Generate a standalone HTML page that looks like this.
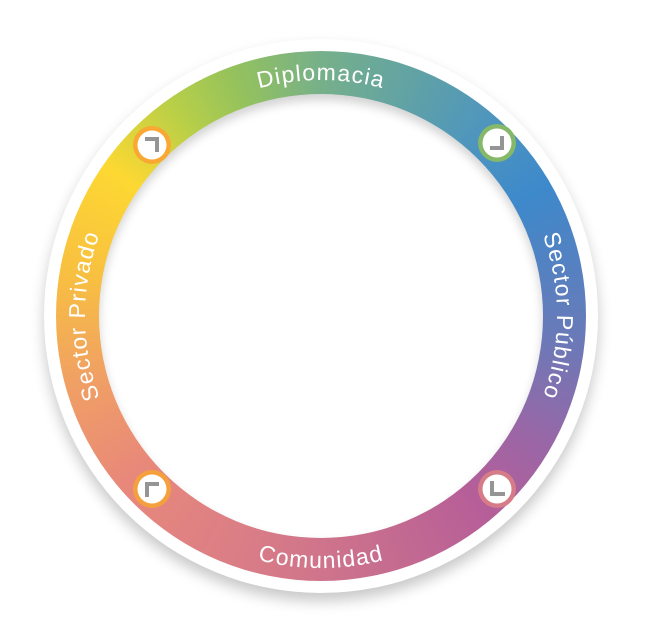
<!DOCTYPE html>
<html><head><meta charset="utf-8"><style>
html,body{margin:0;padding:0;background:#fff;width:650px;height:634px;overflow:hidden}
svg{position:absolute;left:0;top:0}
text{font-family:"Liberation Sans",sans-serif;font-size:23px;fill:#fff;letter-spacing:1.2px}
</style></head><body>
<div style="position:absolute;left:44px;top:39px;width:554px;height:554px;border-radius:50%;background:#fff;box-shadow:0 8px 14px rgba(0,0,0,0.22)"></div>
<div style="position:absolute;left:56px;top:51px;width:530px;height:530px;border-radius:50%;background:conic-gradient(from 0deg,#76b08a 0deg,#4f96bd 40deg,#3d89cb 60deg,#6a7ab8 95deg,#9a66a6 120deg,#b65e98 140deg,#c96f8e 170deg,#db7e86 200deg,#e8887a 230deg,#f0a064 255deg,#f8c040 280deg,#fdd832 305deg,#b8cf48 325deg,#95c25c 340deg,#76b08a 360deg)"></div>
<div style="position:absolute;left:99px;top:94px;width:444px;height:444px;border-radius:50%;background:#fff;box-shadow:inset 0 6px 10px rgba(0,0,0,0.18)"></div>
<svg width="650" height="634" viewBox="0 0 650 634">
<defs>
<path id="top" d="M 85 316 A 236 236 0 0 1 557 316"/>
<path id="right" d="M 321 80 A 236 236 0 0 1 321 552"/>
<path id="left" d="M 321 552 A 236 236 0 0 1 321 80"/>
<path id="bot" d="M 69 316 A 252 252 0 0 0 573 316"/>
</defs>
<text><textPath href="#top" startOffset="50%" text-anchor="middle">Diplomacia</textPath></text>
<text><textPath href="#right" startOffset="50%" text-anchor="middle">Sector Público</textPath></text>
<text><textPath href="#left" startOffset="50%" text-anchor="middle">Sector Privado</textPath></text>
<text><textPath href="#bot" startOffset="50%" text-anchor="middle">Comunidad</textPath></text>
<g>
<circle cx="152" cy="145" r="19" fill="#f9a833"/><circle cx="152" cy="145" r="14.5" fill="#fff"/>
<polyline points="145,139 157,139 157,152" fill="none" stroke="#959595" stroke-width="4"/>
<circle cx="497" cy="143" r="19" fill="#86b86a"/><circle cx="497" cy="143" r="14.5" fill="#fff"/>
<polyline points="502,136 502,148 490,148" fill="none" stroke="#959595" stroke-width="4"/>
<circle cx="152" cy="489" r="19" fill="#f5a03e"/><circle cx="152" cy="489" r="14.5" fill="#fff"/>
<polyline points="147,497 147,484 159,484" fill="none" stroke="#959595" stroke-width="4"/>
<circle cx="497" cy="489" r="19" fill="#d67c88"/><circle cx="497" cy="489" r="14.5" fill="#fff"/>
<polyline points="492,481 492,494 505,494" fill="none" stroke="#959595" stroke-width="4"/>
</g>
</svg>
</body></html>
